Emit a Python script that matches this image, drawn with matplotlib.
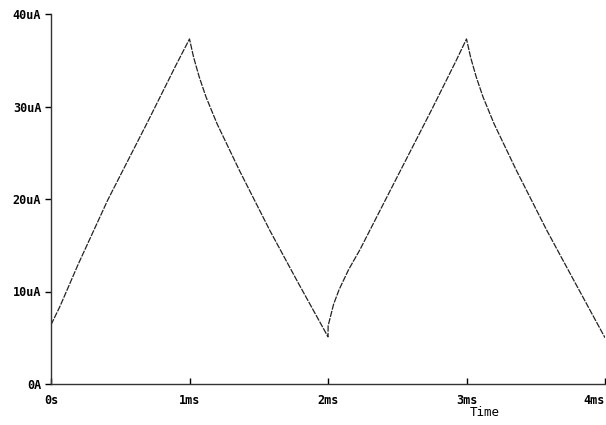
import numpy as np
import matplotlib
matplotlib.use("Agg")
import matplotlib.pyplot as plt

# current waveform (time in ms, current in uA)
t_ms = [0.0, 0.065, 0.195, 0.41, 0.7, 0.9, 1.0,
        1.03, 1.07, 1.12, 1.2, 1.36, 1.58, 1.775, 2.0,
        2.001, 2.04, 2.08, 2.15, 2.23, 2.5, 2.75, 2.92, 3.0,
        3.03, 3.07, 3.12, 3.2, 3.36, 3.58, 3.775, 4.0]
i_ua = [6.4, 8.4, 12.9, 19.9, 28.4, 34.4, 37.3,
        35.3, 33.2, 31.0, 28.1, 23.1, 16.6, 11.2, 5.1,
        6.3, 8.6, 10.2, 12.4, 14.5, 22.4, 29.7, 34.8, 37.3,
        35.3, 33.2, 31.0, 28.1, 23.1, 16.6, 11.2, 5.0]

xticks = [0, 1, 2, 3, 4]
xtick_labels = ["0s", "1ms", "2ms", "3ms", "4ms"]
yticks = [0, 10, 20, 30, 40]
ytick_labels = ["0A", "10uA", "20uA", "30uA", "40uA"]

fig = plt.figure(figsize=(6.06, 4.25), dpi=100)
ax = fig.add_axes([51/606, 1-384/425, 554/606, 370/425])

ax.plot(t_ms, i_ua, color="#222222", lw=0.9, ls=(0, (5, 1)))

ax.set_xlim(0, 4)
ax.set_ylim(0, 40)
ax.spines["top"].set_visible(False)
ax.spines["right"].set_visible(False)
for s in ["left", "bottom"]:
    ax.spines[s].set_linewidth(1.0)
    ax.spines[s].set_color("#333333")

fnt = dict(family="DejaVu Sans Mono", weight="bold", size=8.5)
ax.set_xticks(xticks)
ax.set_xticklabels(xtick_labels, **fnt)
ax.set_yticks(yticks)
ax.set_yticklabels(ytick_labels, **fnt)
ax.xaxis.get_ticklabels()[-1].set_horizontalalignment("right")
ax.tick_params(axis="x", direction="in", length=4, width=1, pad=7)
ax.tick_params(axis="y", direction="out", length=4, width=1, pad=3)

ax.set_xlabel("Time", family="DejaVu Sans Mono", size=9)
ax.xaxis.set_label_coords(0.783, -0.06)

fig.savefig("out.png", dpi=100)
